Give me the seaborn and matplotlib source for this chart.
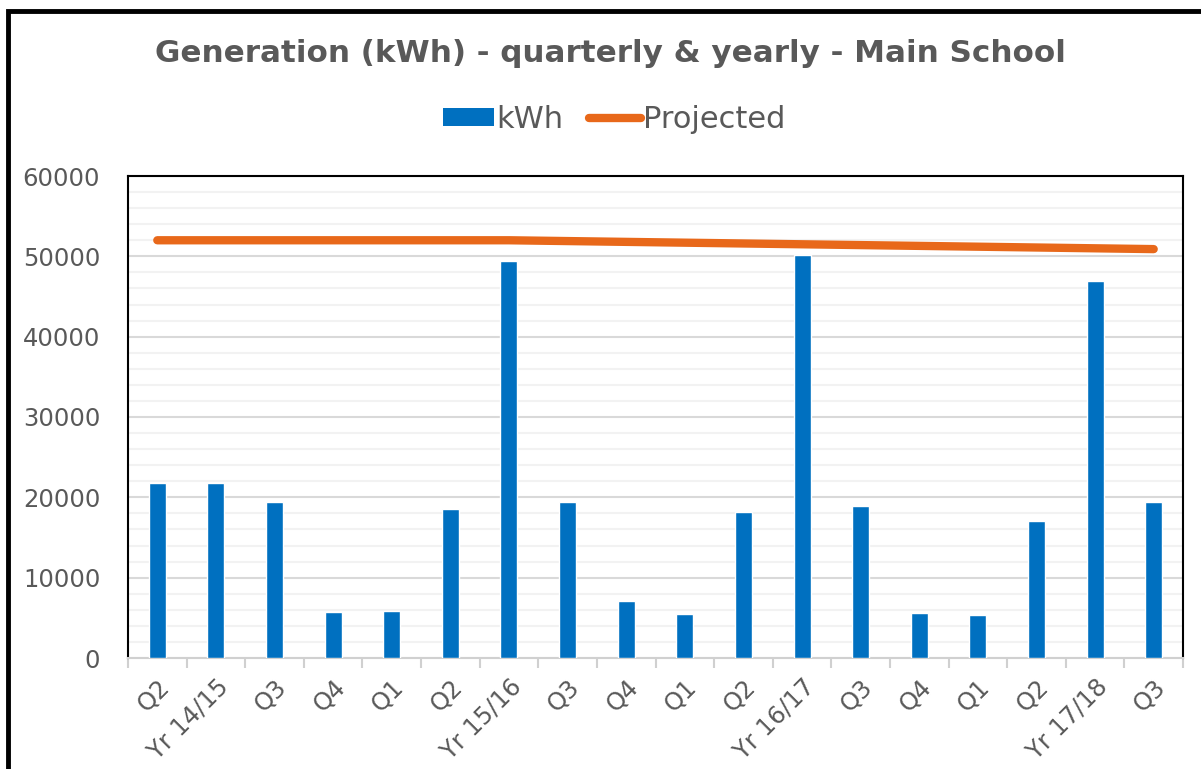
import matplotlib
matplotlib.use("Agg")
import matplotlib.pyplot as plt
from matplotlib.patches import Rectangle, Patch
from matplotlib.lines import Line2D
from matplotlib.ticker import MultipleLocator, FixedLocator
import seaborn as sns
import pandas as pd

# === Data ===
labels = ["Q2", "Yr 14/15", "Q3", "Q4", "Q1", "Q2", "Yr 15/16", "Q3", "Q4",
          "Q1", "Q2", "Yr 16/17", "Q3", "Q4", "Q1", "Q2", "Yr 17/18", "Q3"]
kwh = [21800, 21800, 19400, 5700, 5800, 18500, 49400, 19400, 7100,
       5500, 18200, 50200, 18900, 5600, 5300, 17100, 46900, 19400]
projected = [52000, 52000, 52000, 52000, 52000, 52000, 52000, 51900, 51800,
             51700, 51600, 51500, 51400, 51300, 51200, 51100, 51000, 50900]

BLUE = "#0070C0"
ORANGE = "#E8681A"
TXT = "#595959"

df = pd.DataFrame({"pos": range(len(labels)), "kWh": kwh, "Projected": projected})

sns.set_style("white")
plt.rcParams["font.family"] = ["DejaVu Sans"]

fig = plt.figure(figsize=(12.01, 7.69), dpi=100)
ax = fig.add_axes([128 / 1201, 1 - 658 / 769, (1183 - 128) / 1201, (658 - 176) / 769])

# === Bars + line ===
sns.barplot(data=df, x="pos", y="kWh", color=BLUE, width=0.29, saturation=1, ax=ax, zorder=3)
sns.lineplot(data=df, x="pos", y="Projected", color=ORANGE, lw=6, ax=ax, zorder=4,
             solid_capstyle="round")

ax.set_xlim(-0.5, len(labels) - 0.5)
ax.set_ylim(0, 60000)
ax.yaxis.set_major_locator(MultipleLocator(10000))
ax.yaxis.set_minor_locator(MultipleLocator(2000))
ax.grid(which="major", axis="y", color="#d9d9d9", lw=1.5, zorder=0)
ax.grid(which="minor", axis="y", color="#f2f2f2", lw=1.5, zorder=0)
ax.set_axisbelow(True)

ax.set_xticks(range(len(labels)))
ax.set_xticklabels(labels, rotation=45, ha="right", rotation_mode="anchor")
ax.xaxis.set_minor_locator(FixedLocator([i - 0.5 for i in range(len(labels) + 1)]))
ax.tick_params(axis="x", which="major", length=0, pad=12, labelsize=17.5, labelcolor=TXT)
ax.tick_params(axis="x", which="minor", length=7, width=1.5, color="#d0d0d0", bottom=True)
ax.tick_params(axis="y", which="both", length=0, pad=20, labelsize=17.5, labelcolor=TXT)
ax.set_xlabel("")
ax.set_ylabel("")

for side in ["left", "top", "right"]:
    ax.spines[side].set_visible(True)
    ax.spines[side].set_color("black")
    ax.spines[side].set_linewidth(1.5)
ax.spines["bottom"].set_color("#d0d0d0")
ax.spines["bottom"].set_linewidth(1.5)

# === Title & legend ===
fig.text(0.508, 0.930, "Generation (kWh) - quarterly & yearly - Main School",
         ha="center", va="center", fontsize=22.3, fontweight="bold", color=TXT)
handles = [Patch(facecolor=BLUE, edgecolor="none"),
           Line2D([0], [0], color=ORANGE, lw=6, solid_capstyle="round")]
leg = fig.legend(handles, ["kWh", "Projected"], loc="center", ncol=2, frameon=False,
                 bbox_to_anchor=(0.511, 0.845), fontsize=22, handlelength=1.7,
                 handleheight=0.52, handletextpad=0.05, columnspacing=0.85)
for t in leg.get_texts():
    t.set_color(TXT)

# outer chart frame (runs past right/bottom edges)
fig.patches.append(Rectangle((8 / 1201, -0.2), 1.5, 1.2 - 11 / 769,
                             transform=fig.transFigure, fill=False,
                             edgecolor="black", lw=3.5))

fig.savefig("out.png", dpi=100)
